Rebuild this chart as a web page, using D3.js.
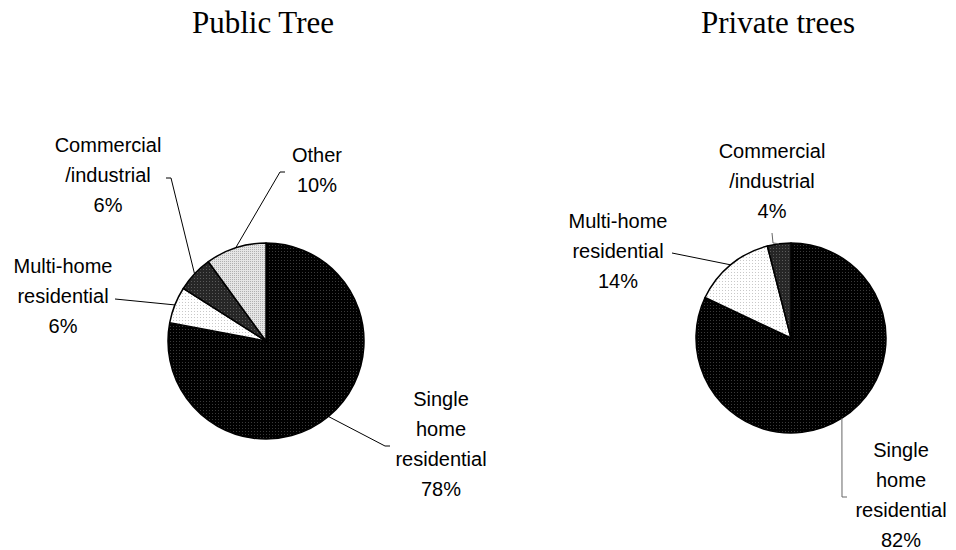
<!DOCTYPE html>
<html>
<head>
<meta charset="utf-8">
<script src="https://cdn.jsdelivr.net/npm/d3@7"></script>
<style>
  html, body { margin: 0; padding: 0; background: #fff; }
  svg { display: block; }
  .title { font-family: "Liberation Serif", "Times New Roman", serif; font-size: 31px; fill: #000; }
  .label { font-family: "Liberation Sans", Arial, sans-serif; font-size: 20px; fill: #000; }
</style>
</head>
<body>
<svg id="chart" width="956" height="550"></svg>
<script>
// Land use of the tree inventory, percent of trees
const publicCategories = ["Single home residential", "Multi-home residential", "Commercial /industrial", "Other"];
const publicValues = [78, 6, 6, 10];

const privateCategories = ["Single home residential", "Multi-home residential", "Commercial /industrial"];
const privateValues = [82, 14, 4];

// How each category name wraps in its label
const labelLines = {
  "Single home residential": ["Single", "home", "residential"],
  "Multi-home residential": ["Multi-home", "residential"],
  "Commercial /industrial": ["Commercial", "/industrial"],
  "Other": ["Other"]
};

// Fill pattern per category
const categoryFill = {
  "Single home residential": "url(#patSingle)",
  "Multi-home residential": "url(#patMulti)",
  "Commercial /industrial": "url(#patCommercial)",
  "Other": "url(#patOther)"
};

const svg = d3.select("#chart");
const defs = svg.append("defs");

function dotPattern(id, bg, dot, step) {
  const p = defs.append("pattern")
    .attr("id", id)
    .attr("patternUnits", "userSpaceOnUse")
    .attr("width", step).attr("height", step);
  p.append("rect").attr("width", step).attr("height", step).attr("fill", bg);
  p.append("rect").attr("x", 0).attr("y", 0).attr("width", 1).attr("height", 1).attr("fill", dot);
}
dotPattern("patSingle", "#000", "#3a3a3a", 3);
dotPattern("patMulti", "#ffffff", "#c8c8c8", 3);
dotPattern("patCommercial", "#262626", "#5a5a5a", 3);
dotPattern("patOther", "#e6e6e6", "#b0b0b0", 2);

// Pie placement and label layout (offsets from the pie centre)
const charts = [
  {
    title: "Public Tree", titleX: 263, titleY: 33,
    cx: 266, cy: 341, r: 98,
    categories: publicCategories, values: publicValues,
    labels: {
      "Single home residential": { dx: 175, dy: 65, elbow: [119, 105], end: [124, 105], color: "#000" },
      "Multi-home residential":  { dx: -203, dy: -68, elbow: null, end: [-151, -42], color: "#000" },
      "Commercial /industrial":  { dx: -158, dy: -189, elbow: [-95, -163], end: [-100, -163], color: "#000" },
      "Other":                   { dx: 51, dy: -179, elbow: [14, -169], end: [19, -169], color: "#000" }
    }
  },
  {
    title: "Private trees", titleX: 778, titleY: 33,
    cx: 791, cy: 338, r: 95,
    categories: privateCategories, values: privateValues,
    labels: {
      "Single home residential": { dx: 110, dy: 119, elbow: [51, 159], end: [56, 159], color: "#666" },
      "Multi-home residential":  { dx: -173, dy: -110, elbow: null, end: [-119, -85], color: "#000" },
      "Commercial /industrial":  { dx: -19, dy: -180, elbow: [-18, -95], end: [-19, -105], color: "#666" }
    }
  }
];

const lineHeight = 30;

charts.forEach(c => {
  const data = c.categories.map((name, i) => ({ name, value: c.values[i] }));
  const pie = d3.pie().value(d => d.value).sort(null);
  const arc = d3.arc().innerRadius(0).outerRadius(c.r);
  const arcs = pie(data);

  svg.append("text")
    .attr("class", "title")
    .attr("x", c.titleX).attr("y", c.titleY)
    .attr("text-anchor", "middle")
    .text(c.title);

  const g = svg.append("g").attr("transform", `translate(${c.cx},${c.cy})`);

  g.selectAll("path.slice")
    .data(arcs)
    .join("path")
    .attr("class", "slice")
    .attr("d", arc)
    .attr("fill", d => categoryFill[d.data.name])
    .attr("stroke", "#000")
    .attr("stroke-width", 1.5)
    .attr("stroke-linejoin", "round");

  // Leader lines from the middle of each slice's rim
  arcs.forEach(d => {
    const lay = c.labels[d.data.name];
    const mid = (d.startAngle + d.endAngle) / 2;
    const p0 = [c.r * Math.sin(mid), -c.r * Math.cos(mid)];
    const pts = [p0];
    if (lay.elbow) pts.push(lay.elbow);
    pts.push(lay.end);
    g.append("path")
      .attr("d", d3.line()(pts))
      .attr("fill", "none")
      .attr("stroke", lay.color)
      .attr("stroke-width", 1);

    const lines = labelLines[d.data.name].concat([d.data.value + "%"]);
    const t = g.append("text")
      .attr("class", "label")
      .attr("text-anchor", "middle");
    lines.forEach((ln, k) => {
      t.append("tspan")
        .attr("x", lay.dx)
        .attr("y", lay.dy + k * lineHeight)
        .text(ln);
    });
  });
});
</script>
</body>
</html>
